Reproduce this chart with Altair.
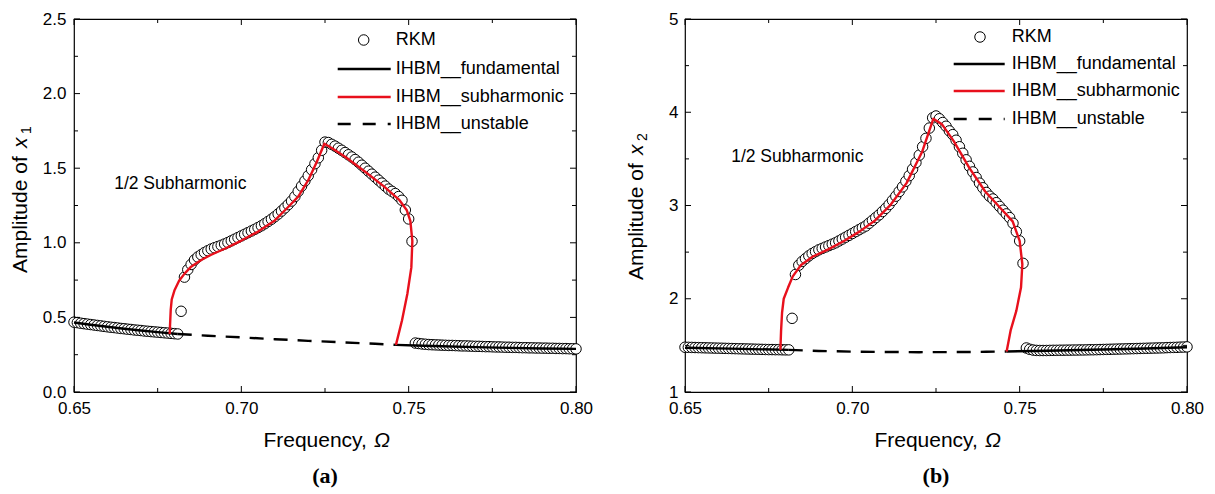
import altair as alt
import pandas as pd

# ---------------- data ----------------
FREQ = [0.650, 0.651, 0.652, 0.653, 0.654, 0.655, 0.656, 0.657, 0.658, 0.659,
        0.660, 0.661, 0.662, 0.663, 0.664, 0.665, 0.666, 0.667, 0.668, 0.669,
        0.670, 0.671, 0.672, 0.673, 0.674, 0.675, 0.676, 0.677, 0.678, 0.679,
        0.680, 0.681, 0.682, 0.683, 0.684, 0.685, 0.686, 0.687, 0.688, 0.689,
        0.690, 0.691, 0.692, 0.693, 0.694, 0.695, 0.696, 0.697, 0.698, 0.699,
        0.700, 0.701, 0.702, 0.703, 0.704, 0.705, 0.706, 0.707, 0.708, 0.709,
        0.710, 0.711, 0.712, 0.713, 0.714, 0.715, 0.716, 0.717, 0.718, 0.719,
        0.720, 0.721, 0.722, 0.723, 0.724, 0.725, 0.726, 0.727, 0.728, 0.729,
        0.730, 0.731, 0.732, 0.733, 0.734, 0.735, 0.736, 0.737, 0.738, 0.739,
        0.740, 0.741, 0.742, 0.743, 0.744, 0.745, 0.746, 0.747, 0.748, 0.749,
        0.750, 0.751, 0.752, 0.753, 0.754, 0.755, 0.756, 0.757, 0.758, 0.759,
        0.760, 0.761, 0.762, 0.763, 0.764, 0.765, 0.766, 0.767, 0.768, 0.769,
        0.770, 0.771, 0.772, 0.773, 0.774, 0.775, 0.776, 0.777, 0.778, 0.779,
        0.780, 0.781, 0.782, 0.783, 0.784, 0.785, 0.786, 0.787, 0.788, 0.789,
        0.790, 0.791, 0.792, 0.793, 0.794, 0.795, 0.796, 0.797, 0.798, 0.799,
        0.800]

RKM_X1 = [0.468, 0.465, 0.461, 0.458, 0.455, 0.452, 0.449, 0.446, 0.443, 0.440,
          0.437, 0.434, 0.432, 0.429, 0.426, 0.424, 0.421, 0.419, 0.416, 0.414,
          0.412, 0.409, 0.407, 0.405, 0.403, 0.401, 0.399, 0.397, 0.395, 0.393,
          0.391, 0.389, 0.541, 0.770, 0.820, 0.855, 0.885, 0.905, 0.920, 0.935,
          0.947, 0.958, 0.967, 0.975, 0.983, 0.992, 1.002, 1.013, 1.024, 1.035,
          1.046, 1.057, 1.068, 1.079, 1.090, 1.102, 1.114, 1.128, 1.143, 1.158,
          1.175, 1.193, 1.213, 1.234, 1.256, 1.280, 1.310, 1.345, 1.380, 1.415,
          1.450, 1.490, 1.530, 1.570, 1.620, 1.675, 1.672, 1.660, 1.648, 1.634,
          1.620, 1.605, 1.590, 1.575, 1.558, 1.540, 1.520, 1.500, 1.480, 1.460,
          1.440, 1.420, 1.400, 1.380, 1.360, 1.345, 1.330, 1.310, 1.285, 1.220,
          1.160, 1.010, 0.328, 0.325, 0.322, 0.320, 0.318, 0.317, 0.316, 0.315,
          0.314, 0.313, 0.312, 0.312, 0.311, 0.310, 0.309, 0.309, 0.308, 0.307,
          0.306, 0.306, 0.305, 0.304, 0.304, 0.303, 0.302, 0.302, 0.301, 0.300,
          0.300, 0.299, 0.299, 0.298, 0.297, 0.297, 0.296, 0.296, 0.295, 0.295,
          0.294, 0.294, 0.293, 0.293, 0.292, 0.292, 0.291, 0.291, 0.290, 0.290,
          0.289]

RKM_X2 = [1.480, 1.479, 1.478, 1.477, 1.476, 1.475, 1.474, 1.473, 1.472, 1.471,
          1.470, 1.469, 1.468, 1.467, 1.466, 1.465, 1.464, 1.463, 1.462, 1.461,
          1.460, 1.459, 1.458, 1.457, 1.456, 1.455, 1.455, 1.454, 1.454, 1.453,
          1.452, 1.452, 1.790, 2.260, 2.360, 2.400, 2.430, 2.460, 2.485, 2.505,
          2.525, 2.540, 2.555, 2.570, 2.585, 2.600, 2.620, 2.640, 2.660, 2.680,
          2.700, 2.720, 2.740, 2.760, 2.780, 2.810, 2.840, 2.870, 2.900, 2.935,
          2.970, 3.010, 3.055, 3.100, 3.150, 3.200, 3.260, 3.320, 3.390, 3.460,
          3.540, 3.630, 3.720, 3.830, 3.940, 3.960, 3.930, 3.890, 3.850, 3.800,
          3.760, 3.700, 3.630, 3.560, 3.490, 3.420, 3.360, 3.300, 3.240, 3.190,
          3.140, 3.100, 3.070, 3.030, 2.990, 2.950, 2.910, 2.870, 2.810, 2.720,
          2.620, 2.380, 1.472, 1.458, 1.450, 1.446, 1.445, 1.445, 1.445, 1.446,
          1.447, 1.447, 1.448, 1.448, 1.449, 1.449, 1.450, 1.450, 1.451, 1.451,
          1.452, 1.453, 1.453, 1.454, 1.455, 1.456, 1.457, 1.458, 1.459, 1.460,
          1.461, 1.462, 1.463, 1.464, 1.465, 1.466, 1.467, 1.468, 1.469, 1.470,
          1.471, 1.472, 1.473, 1.474, 1.476, 1.477, 1.478, 1.479, 1.481, 1.482,
          1.484]

# IHBM curves, panel (a)
FUND1_LOW_F = [0.650, 0.655, 0.660, 0.665, 0.670, 0.675, 0.681]
FUND1_LOW_A = [0.466, 0.451, 0.437, 0.424, 0.412, 0.401, 0.389]
UNST1_F = [0.681, 0.690, 0.700, 0.710, 0.720, 0.730, 0.740, 0.7462]
UNST1_A = [0.389, 0.377, 0.366, 0.354, 0.343, 0.333, 0.323, 0.316]
FUND1_HIGH_F = [0.7462, 0.752, 0.760, 0.770, 0.780, 0.790, 0.800]
FUND1_HIGH_A = [0.316, 0.312, 0.307, 0.301, 0.296, 0.292, 0.289]
SUB1_F = [0.6786, 0.6787, 0.6789, 0.6792, 0.6800, 0.6814, 0.6831, 0.6850, 0.6880,
          0.6910, 0.6950, 0.7000, 0.7050, 0.7100, 0.7140, 0.7170, 0.7200, 0.7225,
          0.7248, 0.7270, 0.7311, 0.7368, 0.7425, 0.7471, 0.7494, 0.7505, 0.7511,
          0.7508, 0.7496, 0.7480, 0.7462]
SUB1_A = [0.389, 0.450, 0.550, 0.620, 0.680, 0.745, 0.795, 0.840, 0.885,
          0.920, 0.960, 1.015, 1.075, 1.150, 1.240, 1.310, 1.420, 1.540,
          1.664, 1.635, 1.575, 1.480, 1.380, 1.290, 1.220, 1.147, 1.013,
          0.835, 0.657, 0.479, 0.316]

# IHBM curves, panel (b)
FUND2_LOW_F = [0.650, 0.660, 0.670, 0.681]
FUND2_LOW_A = [1.475, 1.468, 1.460, 1.452]
UNST2_F = [0.681, 0.690, 0.700, 0.710, 0.720, 0.730, 0.740, 0.7461]
UNST2_A = [1.452, 1.440, 1.433, 1.429, 1.427, 1.428, 1.431, 1.435]
FUND2_HIGH_F = [0.7461, 0.755, 0.765, 0.775, 0.785, 0.800]
FUND2_HIGH_A = [1.435, 1.440, 1.447, 1.455, 1.464, 1.480]
SUB2_F = [0.6785, 0.6787, 0.6790, 0.6795, 0.6808, 0.6822, 0.6846, 0.6881, 0.6928,
          0.6975, 0.7021, 0.7068, 0.7115, 0.7162, 0.7209, 0.7242, 0.7268, 0.7303,
          0.7350, 0.7397, 0.7443, 0.7479, 0.7500, 0.7508, 0.7504, 0.7490, 0.7473,
          0.7461]
SUB2_A = [1.452, 1.650, 1.850, 2.000, 2.120, 2.240, 2.360, 2.450, 2.530,
          2.620, 2.720, 2.840, 3.010, 3.240, 3.580, 3.930, 3.870, 3.690,
          3.400, 3.150, 2.970, 2.830, 2.620, 2.370, 2.120, 1.870, 1.660,
          1.435]

X_TICKS = [0.65, 0.70, 0.75, 0.80]
X_MINOR = [0.675, 0.725, 0.775]
Y1_TICKS = [0.0, 0.5, 1.0, 1.5, 2.0, 2.5]
Y1_MINOR = [0.25, 0.75, 1.25, 1.75, 2.25]
Y2_TICKS = [1, 2, 3, 4, 5]
Y2_MINOR = [1.5, 2.5, 3.5, 4.5]
LEGEND_LABELS = ["RKM", "IHBM__fundamental", "IHBM__subharmonic", "IHBM__unstable"]
ANNOT = "1/2 Subharmonic"

# ---------------- styling ----------------
FONT = "Liberation Sans"
SERIF = "Liberation Serif"
W, H = 502, 373
RED = "#e8101c"
LW = 2.4
DASH = [14, 10]
PT_SIZE = 110


def build_panel(rkm, fl_f, fl_a, un_f, un_a, fh_f, fh_a, sb_f, sb_a,
                ydomain, yticks, yminor, yfmt, ylab_pad, annot_xy,
                leg, ytitle, sub_digit, tag):
    xscale = alt.Scale(domain=[0.65, 0.80], nice=False, zero=False)
    yscale = alt.Scale(domain=ydomain, nice=False, zero=False)
    xaxis = alt.Axis(values=X_TICKS, format=".2f", title=None, labelFlush=False,
                     labelOverlap=False, labelPadding=8, ticks=False, tickSize=0,
                     domain=False, grid=False)
    yaxis = alt.Axis(values=yticks, format=yfmt, title=None, labelFlush=False,
                     labelOverlap=False, labelPadding=ylab_pad, ticks=False,
                     tickSize=0, domain=False, grid=False)

    def X():
        return alt.X("f:Q", scale=xscale, axis=xaxis)

    def Y():
        return alt.Y("a:Q", scale=yscale, axis=yaxis)

    def line_df(fs, as_):
        return pd.DataFrame({"f": fs, "a": as_, "i": list(range(len(fs)))})

    rkm_df = pd.DataFrame({"f": FREQ, "a": rkm})
    pts = alt.Chart(rkm_df).mark_point(
        shape="circle", filled=True, fill="white", stroke="black",
        strokeWidth=1, size=PT_SIZE, opacity=1
    ).encode(x=X(), y=Y())

    def curve(fs, as_, color, dash=None):
        kw = dict(color=color, strokeWidth=LW, strokeCap="butt", strokeJoin="round")
        if dash:
            kw["strokeDash"] = dash
        return alt.Chart(line_df(fs, as_)).mark_line(**kw).encode(
            x=X(), y=Y(), order="i:Q")

    fund_lo = curve(fl_f, fl_a, "black")
    fund_hi = curve(fh_f, fh_a, "black")
    unst = curve(un_f, un_a, "black", DASH)
    sub = curve(sb_f, sb_a, RED)

    annot = alt.Chart(pd.DataFrame({"f": [annot_xy[0]], "a": [annot_xy[1]], "t": [ANNOT]})).mark_text(
        font=FONT, fontSize=17.5, align="left", baseline="middle", color="black"
    ).encode(x=X(), y=Y(), text="t:N")

    # inward ticks on four sides
    xt = pd.DataFrame({"f": X_TICKS})
    xm = pd.DataFrame({"f": X_MINOR})
    yt = pd.DataFrame({"a": yticks})
    ym = pd.DataFrame({"a": yminor})
    tick_layers = []
    for df, ln in ((xt, 6), (xm, 4)):
        tick_layers.append(alt.Chart(df).mark_rule(color="black", strokeWidth=1).encode(
            x=X(), y=alt.value(H), y2=alt.value(H - ln)))
        tick_layers.append(alt.Chart(df).mark_rule(color="black", strokeWidth=1).encode(
            x=X(), y=alt.value(0), y2=alt.value(ln)))
    for df, ln in ((yt, 6), (ym, 4)):
        tick_layers.append(alt.Chart(df).mark_rule(color="black", strokeWidth=1).encode(
            y=Y(), x=alt.value(0), x2=alt.value(ln)))
        tick_layers.append(alt.Chart(df).mark_rule(color="black", strokeWidth=1).encode(
            y=Y(), x=alt.value(W), x2=alt.value(W - ln)))

    # legend (inside the frame, top right)
    cx, tx, lx0, lx1, rows = leg
    lg = []
    lg.append(alt.Chart(pd.DataFrame({"k": [0]})).mark_point(
        shape="circle", filled=True, fill="white", stroke="black", strokeWidth=1,
        size=PT_SIZE, opacity=1).encode(x=alt.value(cx), y=alt.value(rows[0])))
    lg.append(alt.Chart(pd.DataFrame({"k": [0]})).mark_rule(
        color="black", strokeWidth=LW).encode(
        x=alt.value(lx0), x2=alt.value(lx1), y=alt.value(rows[1])))
    lg.append(alt.Chart(pd.DataFrame({"k": [0]})).mark_rule(
        color=RED, strokeWidth=LW).encode(
        x=alt.value(lx0), x2=alt.value(lx1), y=alt.value(rows[2])))
    lg.append(alt.Chart(pd.DataFrame({"k": [0]})).mark_rule(
        color="black", strokeWidth=LW, strokeDash=[13, 12]).encode(
        x=alt.value(lx0), x2=alt.value(lx1), y=alt.value(rows[3])))
    for lab, ry in zip(LEGEND_LABELS, rows):
        lg.append(alt.Chart(pd.DataFrame({"t": [lab]})).mark_text(
            font=FONT, fontSize=18, align="left", baseline="middle", color="black"
        ).encode(x=alt.value(tx), y=alt.value(ry), text="t:N"))

    # axis titles and panel tag
    bx, by_main, by_x, sbx, by_sub = ytitle
    titles = [
        alt.Chart(pd.DataFrame({"t": ["Amplitude of"]})).mark_text(
            font=FONT, fontSize=21, angle=270, align="left", baseline="alphabetic",
            color="black").encode(x=alt.value(bx), y=alt.value(by_main), text="t:N"),
        alt.Chart(pd.DataFrame({"t": ["x"]})).mark_text(
            font=FONT, fontSize=21, fontStyle="italic", angle=270, align="left",
            baseline="alphabetic", color="black").encode(
            x=alt.value(bx), y=alt.value(by_x), text="t:N"),
        alt.Chart(pd.DataFrame({"t": [sub_digit]})).mark_text(
            font=FONT, fontSize=14, angle=270, align="left", baseline="alphabetic",
            color="black").encode(x=alt.value(sbx), y=alt.value(by_sub), text="t:N"),
        alt.Chart(pd.DataFrame({"t": ["Frequency, "]})).mark_text(
            font=FONT, fontSize=21, align="left", baseline="alphabetic",
            color="black").encode(x=alt.value(189.4), y=alt.value(428), text="t:N"),
        alt.Chart(pd.DataFrame({"t": ["Ω"]})).mark_text(
            font=FONT, fontSize=21, fontStyle="italic", align="left",
            baseline="alphabetic", color="black").encode(
            x=alt.value(300), y=alt.value(428), text="t:N"),
        alt.Chart(pd.DataFrame({"t": [tag]})).mark_text(
            font=SERIF, fontSize=22, fontWeight="bold", align="center",
            baseline="alphabetic", color="black").encode(
            x=alt.value(W / 2), y=alt.value(464), text="t:N"),
    ]

    return alt.layer(pts, fund_lo, fund_hi, unst, sub, annot,
                     *tick_layers, *lg, *titles).properties(width=W, height=H)


left = build_panel(RKM_X1, FUND1_LOW_F, FUND1_LOW_A, UNST1_F, UNST1_A,
                   FUND1_HIGH_F, FUND1_HIGH_A, SUB1_F, SUB1_A,
                   [0, 2.5], Y1_TICKS, Y1_MINOR, ".1f", 8, (0.662, 1.395),
                   (289.7, 321.7, 263.7, 316.7, [21, 50, 78, 105]),
                   (-47.5, 254, 129, -43.5, 115), "1", "(a)")
right = build_panel(RKM_X2, FUND2_LOW_F, FUND2_LOW_A, UNST2_F, UNST2_A,
                    FUND2_HIGH_F, FUND2_HIGH_A, SUB2_F, SUB2_A,
                    [1, 5], Y2_TICKS, Y2_MINOR, "d", 7, (0.6638, 3.52),
                    (295, 326.7, 268.7, 319.7, [18, 45, 72, 100]),
                    (-42, 261, 136, -38, 122), "2", "(b)")

chart = alt.hconcat(left, right, spacing=109, bounds="flush").properties(
    padding={"left": 0, "top": 1, "right": 0, "bottom": 0}
).configure_view(stroke="black", strokeWidth=1.2).configure_axis(
    labelFont=FONT, labelFontSize=17, labelColor="black"
)

chart.save("out.html", embed_options={"renderer": "svg", "actions": False})
